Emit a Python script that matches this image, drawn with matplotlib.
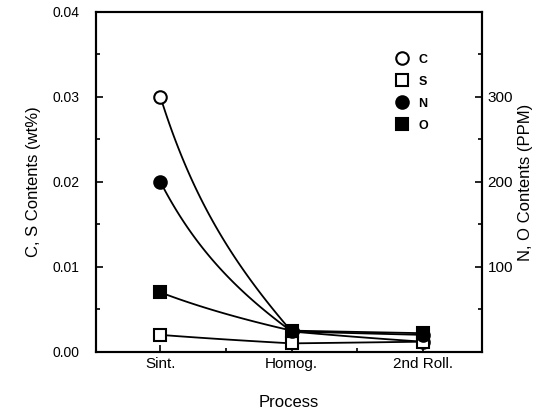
import numpy as np
import matplotlib
matplotlib.use("Agg")
import matplotlib.pyplot as plt
from matplotlib.lines import Line2D

plt.rcParams['font.family'] = ['Liberation Sans', 'DejaVu Sans']

processes = ["Sint.", "Homog.", "2nd Roll."]
C_wt = [0.030, 0.0024, 0.0012]
S_wt = [0.0020, 0.0010, 0.0012]
N_ppm = [200, 24, 20]
O_ppm = [70, 25, 22]

x = np.arange(1, len(processes) + 1)

def smooth(xs, ys, n=60, w_log=0.5):
    xo, yo = [], []
    for i in range(len(xs) - 1):
        t = np.linspace(0, 1, n)
        y0, y1 = ys[i], ys[i + 1]
        lin = y0 + (y1 - y0) * t
        log = np.exp(np.log(y0) + (np.log(y1) - np.log(y0)) * t)
        yy = (1 - w_log) * lin + w_log * log
        xo.append(xs[i] + (xs[i + 1] - xs[i]) * t)
        yo.append(yy)
    return np.concatenate(xo), np.concatenate(yo)

fig = plt.figure(figsize=(5.59, 4.13), dpi=100)
ax = fig.add_axes([0.172, 0.148, 0.69, 0.823])
ax2 = ax.twinx()

lw = 1.3
ms = 9
for ys, mk, fc in [(C_wt, 'o', 'white'), (S_wt, 's', 'white')]:
    sx, sy = smooth(x, ys, w_log=0.45)
    ax.plot(sx, sy, color='black', lw=lw, zorder=2)
    ax.plot(x, ys, ls='none', marker=mk, ms=ms, mfc=fc, mec='black', mew=1.5, zorder=3)
for ys, mk in [(N_ppm, 'o'), (O_ppm, 's')]:
    sx, sy = smooth(x, ys, w_log=0.5)
    ax2.plot(sx, sy, color='black', lw=lw, zorder=2)
    ax2.plot(x, ys, ls='none', marker=mk, ms=ms, mfc='black', mec='black', mew=1.5, zorder=3)

ax.set_xlim(0.51, 3.45)
ax.set_ylim(0, 0.04)
ax2.set_ylim(0, 400)
ax.set_xticks(x)
ax.set_xticklabels(processes, fontsize=11)
ax.set_xticks([1.5, 2.5], minor=True)
ax.set_yticks([0, 0.01, 0.02, 0.03, 0.04])
ax.set_yticklabels(["0.00", "0.01", "0.02", "0.03", "0.04"], fontsize=10)
ax.set_yticks(np.arange(0.005, 0.04, 0.01), minor=True)
ax2.set_yticks([100, 200, 300])
ax2.set_yticklabels(["100", "200", "300"], fontsize=11)
ax2.set_yticks([50, 150, 250, 350], minor=True)

for a in (ax, ax2):
    a.tick_params(which='major', direction='in', length=5, width=1.2)
    a.tick_params(which='minor', direction='in', length=3, width=1.2)
    for s in a.spines.values():
        s.set_linewidth(1.5)
ax.tick_params(axis='x', which='both', top=False, pad=4)
ax.tick_params(axis='y', which='major', pad=12)
ax2.tick_params(axis='y', which='major', pad=4)

ax.set_xlabel("Process", fontsize=12, labelpad=17)
ax.set_ylabel("C, S Contents (wt%)", fontsize=12, labelpad=8)
ax2.set_ylabel("N, O Contents (PPM)", fontsize=12, labelpad=4)

handles = [
    Line2D([], [], ls='none', marker='o', ms=ms, mfc='white', mec='black', mew=1.5),
    Line2D([], [], ls='none', marker='s', ms=ms, mfc='white', mec='black', mew=1.5),
    Line2D([], [], ls='none', marker='o', ms=ms, mfc='black', mec='black', mew=1.5),
    Line2D([], [], ls='none', marker='s', ms=ms, mfc='black', mec='black', mew=1.5),
]
leg = ax.legend(handles, ["C", "S", "N", "O"], loc='upper left',
                bbox_to_anchor=(0.745, 0.91), frameon=False, fontsize=9,
                handletextpad=0.7, labelspacing=0.8, handlelength=1.2)
for t in leg.get_texts():
    t.set_fontweight('bold')

fig.savefig("out.png", dpi=100)
